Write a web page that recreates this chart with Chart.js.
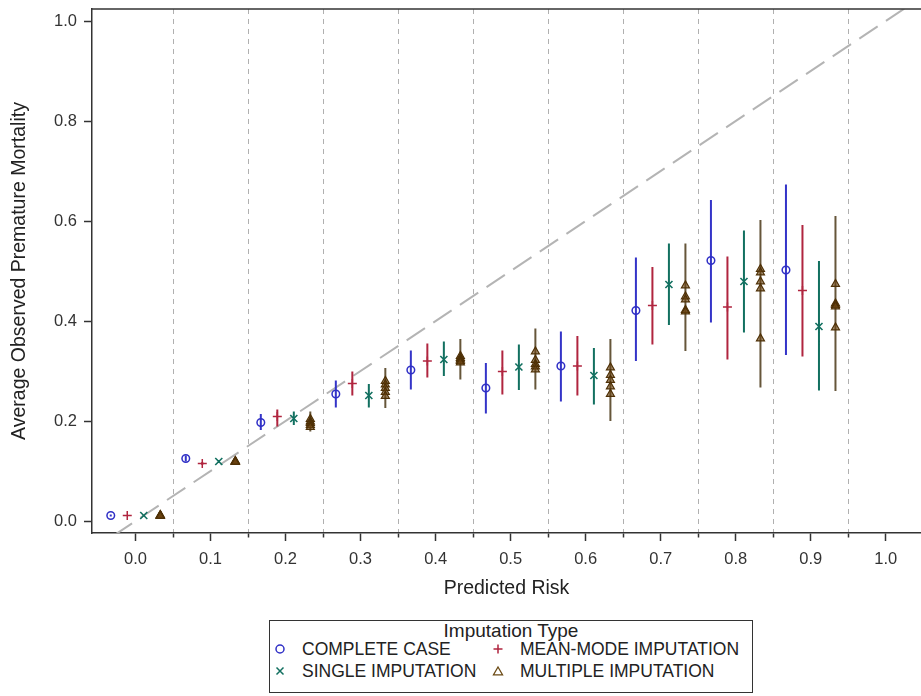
<!DOCTYPE html>
<html>
<head>
<meta charset="utf-8">
<script src="https://cdn.jsdelivr.net/npm/chart.js@4.4.1/dist/chart.umd.min.js"></script>
<style>
  html, body { margin: 0; padding: 0; background: #fff; }
  #wrap { position: relative; width: 921px; height: 696px; overflow: hidden; }
  #legend { position: absolute; left: 269px; top: 620px; width: 484px; height: 73px;
            border: 1px solid #333; box-sizing: border-box;
            font-family: "Liberation Sans", Arial, sans-serif; color: #222; }
  #legend .ttl { position: absolute; left: 0; right: 0; top: -1px; text-align: center;
                 font-size: 19px; line-height: 22px; }
  #legend .item { position: absolute; font-size: 17.5px; line-height: 20px; white-space: nowrap; }
  #legend svg { position: absolute; }
</style>
</head>
<body>
<div id="wrap">
  <canvas id="c" width="921" height="610"></canvas>
  <div id="legend"></div>
</div>
<script>
// bin centres of predicted risk
const bins = [0.0, 0.1, 0.2, 0.3, 0.4, 0.5, 0.6, 0.7, 0.8, 0.9];

const seriesNames = ['COMPLETE CASE', 'MEAN-MODE IMPUTATION', 'SINGLE IMPUTATION', 'MULTIPLE IMPUTATION'];

// complete case
const ccMean = [0.011, 0.125, 0.197, 0.254, 0.302, 0.266, 0.310, 0.421, 0.521, 0.502];
const ccLow  = [0.009, 0.119, 0.182, 0.227, 0.263, 0.215, 0.239, 0.320, 0.397, 0.332];
const ccHigh = [0.013, 0.131, 0.214, 0.281, 0.341, 0.316, 0.379, 0.527, 0.642, 0.673];

// mean-mode imputation
const mmMean = [0.011, 0.115, 0.209, 0.275, 0.320, 0.299, 0.310, 0.431, 0.428, 0.461];
const mmLow  = [0.010, 0.112, 0.189, 0.251, 0.287, 0.253, 0.251, 0.353, 0.323, 0.329];
const mmHigh = [0.012, 0.118, 0.223, 0.299, 0.355, 0.341, 0.370, 0.508, 0.529, 0.592];

// single imputation
const siMean = [0.011, 0.119, 0.205, 0.251, 0.323, 0.308, 0.291, 0.473, 0.479, 0.389];
const siLow  = [0.010, 0.116, 0.192, 0.227, 0.290, 0.262, 0.233, 0.392, 0.377, 0.261];
const siHigh = [0.012, 0.122, 0.219, 0.274, 0.359, 0.353, 0.346, 0.555, 0.581, 0.520];

// multiple imputation, one value per imputed data set
const miValues = [
  [0.012, 0.011, 0.011, 0.010, 0.010],
  [0.120, 0.119, 0.119, 0.118, 0.118],
  [0.204, 0.199, 0.196, 0.192, 0.188],
  [0.280, 0.273, 0.266, 0.258, 0.250],
  [0.330, 0.326, 0.323, 0.320, 0.317],
  [0.339, 0.322, 0.314, 0.309, 0.303],
  [0.307, 0.292, 0.282, 0.269, 0.254],
  [0.471, 0.449, 0.443, 0.422, 0.419],
  [0.504, 0.497, 0.479, 0.465, 0.365],
  [0.474, 0.435, 0.432, 0.429, 0.387]
];
const miLow  = [0.009, 0.116, 0.179, 0.226, 0.283, 0.263, 0.200, 0.340, 0.267, 0.260];
const miHigh = [0.013, 0.122, 0.219, 0.306, 0.364, 0.385, 0.364, 0.555, 0.602, 0.610];

// reference line y = x
const refLine = [-0.1, 1.1];

const xMajor = [0.0, 0.1, 0.2, 0.3, 0.4, 0.5, 0.6, 0.7, 0.8, 0.9, 1.0];
const xMinor = [0.05, 0.15, 0.25, 0.35, 0.45, 0.55, 0.65, 0.75, 0.85, 0.95];
const yTicks = [0.0, 0.2, 0.4, 0.6, 0.8, 1.0];

// styling
const dodge = [-0.033, -0.011, 0.011, 0.033];
const colors = ['#2f2fc6', '#b0253f', '#127060', '#4e3006'];
const barColors = ['#3434c8', '#b0253f', '#127060', '#66563a'];
const FONT = '"Liberation Sans", Arial, sans-serif';
const AXIS = '#333';

function barData(off, lo, hi) {
  const out = [];
  bins.forEach((b, i) => {
    out.push({x: b + off, y: lo[i]}, {x: b + off, y: hi[i]}, {x: b + off, y: null});
  });
  return out;
}

function pointData(off, vals) {
  return bins.map((b, i) => ({x: b + off, y: vals[i]}));
}

const miPoints = [];
bins.forEach((b, i) => miValues[i].forEach(v => miPoints.push({x: b + dodge[3], y: v})));

const lows = [ccLow, mmLow, siLow, miLow];
const highs = [ccHigh, mmHigh, siHigh, miHigh];

const datasets = [{
  type: 'line', showLine: true, order: 10,
  data: refLine.map(v => ({x: v, y: v})),
  borderColor: '#b4b4b4', borderWidth: 2, borderDash: [22, 10], pointRadius: 0
}];

lows.forEach((lo, k) => datasets.push({
  type: 'line', showLine: true, spanGaps: false, order: 5,
  data: barData(dodge[k], lo, highs[k]),
  borderColor: barColors[k], borderWidth: 2, pointRadius: 0
}));

const markerStyles = [
  {pointStyle: 'circle', pointRadius: 3.8, pointBorderWidth: 1.5, pointBackgroundColor: 'rgba(255,255,255,0)'},
  {pointStyle: 'cross', pointRadius: 4.5, pointBorderWidth: 1.5},
  {pointStyle: 'crossRot', pointRadius: 5, pointBorderWidth: 1.6},
  {pointStyle: 'triangle', pointRadius: 4.6, pointBorderWidth: 1.2, pointBackgroundColor: 'rgba(105,65,15,0.6)'}
];
const markerData = [pointData(dodge[0], ccMean), pointData(dodge[1], mmMean), pointData(dodge[2], siMean), miPoints];

markerData.forEach((d, k) => datasets.push(Object.assign({
  type: 'scatter', showLine: false, order: 1, data: d,
  pointBorderColor: colors[k], pointHoverRadius: 0
}, markerStyles[k])));

const isMinor = ctx => ctx.tick && xMinor.includes(ctx.tick.value);

const framePlugin = {
  id: 'frame',
  afterDraw(chart) {
    const {ctx, chartArea: a} = chart;
    ctx.save();
    ctx.strokeStyle = AXIS;
    ctx.lineWidth = 1.5;
    ctx.beginPath();
    ctx.moveTo(a.left, a.top);
    ctx.lineTo(a.right, a.top);
    ctx.stroke();
    ctx.restore();
  }
};

new Chart(document.getElementById('c'), {
  type: 'scatter',
  data: {datasets},
  plugins: [framePlugin],
  options: {
    responsive: false,
    animation: false,
    devicePixelRatio: 1,
    layout: {autoPadding: false, padding: {top: 9, left: 0, right: 0, bottom: 0}},
    plugins: {legend: {display: false}, tooltip: {enabled: false}},
    scales: {
      x: {
        type: 'linear', min: -0.058, max: 1.047,
        afterBuildTicks: s => { s.ticks = xMajor.concat(xMinor).sort((a, b) => a - b).map(v => ({value: v})); },
        afterFit: s => { s.height = 77; s.paddingLeft = 0; s.paddingRight = 0; },
        ticks: {
          autoSkip: false, maxRotation: 0, padding: 9, color: AXIS,
          font: {family: FONT, size: 16.5},
          callback: v => xMinor.includes(v) ? '' : v.toFixed(1)
        },
        grid: {
          drawOnChartArea: true, lineWidth: 1,
          color: ctx => isMinor(ctx) ? '#b0b0b0' : 'rgba(0,0,0,0)',
          tickLength: 8, tickColor: AXIS, tickWidth: 1.5,
          tickBorderDash: ctx => isMinor(ctx) ? [4, 20] : []
        },
        border: {color: AXIS, width: 1.5, dash: ctx => isMinor(ctx) ? [5, 5] : []},
        title: {display: true, text: 'Predicted Risk', color: '#222',
                font: {family: FONT, size: 19.5}, padding: {top: 4, bottom: 10}}
      },
      y: {
        type: 'linear', min: -0.024, max: 1.024,
        afterBuildTicks: s => { s.ticks = yTicks.map(v => ({value: v})); },
        afterFit: s => { s.width = 92; s.paddingTop = 0; s.paddingBottom = 0; },
        ticks: {padding: 7, color: AXIS, font: {family: FONT, size: 16.5}, callback: v => v.toFixed(1)},
        grid: {drawOnChartArea: false, tickLength: 8, tickColor: AXIS, tickWidth: 1.5},
        border: {color: AXIS, width: 1.5},
        title: {display: true, text: 'Average Observed Premature Mortality', color: '#222',
                font: {family: FONT, size: 19.5}, padding: {top: 8, bottom: 4}}
      }
    }
  }
});

// legend (HTML), two columns by two rows
const legendPos = [[10, 28], [228, 28], [10, 50], [228, 50]];
const legendSvg = [
  c => `<circle cx="6" cy="6" r="4" fill="none" stroke="${c}" stroke-width="1.5"/>`,
  c => `<path d="M6 1.5V10.5M1.5 6H10.5" stroke="${c}" stroke-width="1.5"/>`,
  c => `<path d="M2.5 2.5L9.5 9.5M9.5 2.5L2.5 9.5" stroke="${c}" stroke-width="1.5"/>`,
  c => `<path d="M6 2L10.5 9.8H1.5Z" fill="none" stroke="${c}" stroke-width="1.3"/>`
];
const legendColors = ['#2f2fc6', '#b0253f', '#127060', '#6b4a14'];
let html = '<div class="ttl">Imputation Type</div>';
seriesNames.forEach((name, k) => {
  const [cx, cy] = legendPos[k];
  html += `<svg width="12" height="12" style="left:${cx - 6}px;top:${cy - 6}px">${legendSvg[k](legendColors[k])}</svg>`;
  html += `<div class="item" style="left:${cx + 22}px;top:${cy - 10}px">${name}</div>`;
});
document.getElementById('legend').innerHTML = html;
</script>
</body>
</html>
